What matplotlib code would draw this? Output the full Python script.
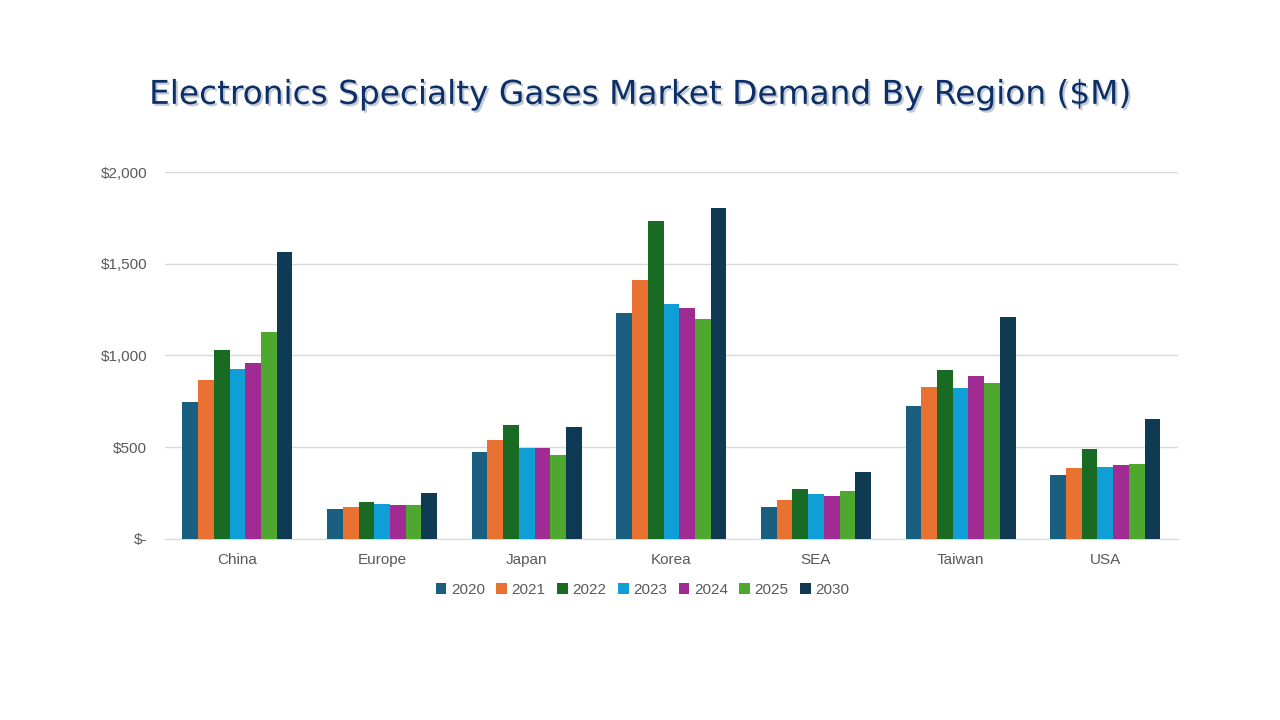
import numpy as np
import matplotlib
matplotlib.use("Agg")
import matplotlib.pyplot as plt
import matplotlib.patheffects as pe
from matplotlib.ticker import FuncFormatter

regions = ["China", "Europe", "Japan", "Korea", "SEA", "Taiwan", "USA"]
years = ["2020", "2021", "2022", "2023", "2024", "2025", "2030"]

# $M by region, one list per year
y2020 = [747, 163, 474, 1232, 174, 725, 349]
y2021 = [866, 174, 540, 1411, 213, 828, 387]
y2022 = [1030, 202, 621, 1733, 272, 921, 490]
y2023 = [926, 191, 496, 1281, 245, 823, 392]
y2024 = [959, 185, 496, 1259, 234, 888, 403]
y2025 = [1128, 185, 458, 1199, 261, 850, 409]
y2030 = [1564, 251, 610, 1804, 365, 1210, 654]

colors = ["#1A5E80", "#E97132", "#196B24", "#0F9ED5", "#A02B93", "#4EA72E", "#0E3A53"]


def money(v, pos):
    if v == 0:
        return "$-"
    return "${:,.0f}".format(v)


def main():
    plt.rcParams['font.family'] = ['Liberation Sans', 'DejaVu Sans']
    series = [y2020, y2021, y2022, y2023, y2024, y2025, y2030]
    fig = plt.figure(figsize=(12.8, 7.2), dpi=100)
    ax = fig.add_axes([0.129, 0.2514, 0.791, 0.5097])

    x = np.arange(len(regions))
    n = len(series)
    w = 0.76 / n
    for i, vals in enumerate(series):
        ax.bar(x - 0.38 + w * (i + 0.5), vals, width=w, color=colors[i],
               label=years[i], zorder=3)

    ax.set_xlim(-0.5, len(regions) - 0.5)
    ax.set_ylim(0, 2000)
    ax.set_yticks([0, 500, 1000, 1500, 2000])
    ax.yaxis.set_major_formatter(FuncFormatter(money))
    ax.set_xticks(x)
    ax.set_xticklabels(regions)
    ax.grid(axis="y", color="#D9D9D9", linewidth=1, zorder=0)
    for s in ["top", "right", "left"]:
        ax.spines[s].set_visible(False)
    ax.spines["bottom"].set_color("#D9D9D9")
    ax.tick_params(axis="both", length=0, colors="#595959", labelsize=11)
    ax.tick_params(axis="y", pad=13)
    ax.tick_params(axis="x", pad=10)

    leg = fig.legend(loc="center", bbox_to_anchor=(0.502, 0.181), ncol=7, frameon=False,
                     fontsize=11, handlelength=0.7, handleheight=0.7,
                     handletextpad=0.3, columnspacing=0.75)
    for t in leg.get_texts():
        t.set_color("#595959")

    fig.text(0.5, 0.869, "Electronics Specialty Gases Market Demand By Region ($M)",
             ha="center", va="center", fontsize=23.6, color="#0B2F66",
             family="DejaVu Sans",
             path_effects=[pe.withSimplePatchShadow(offset=(1.5, -1.5),
                                                    shadow_rgbFace="#9AA7B8", alpha=0.6)])

    fig.savefig("out.png", dpi=100)


if __name__ == "__main__":
    main()
